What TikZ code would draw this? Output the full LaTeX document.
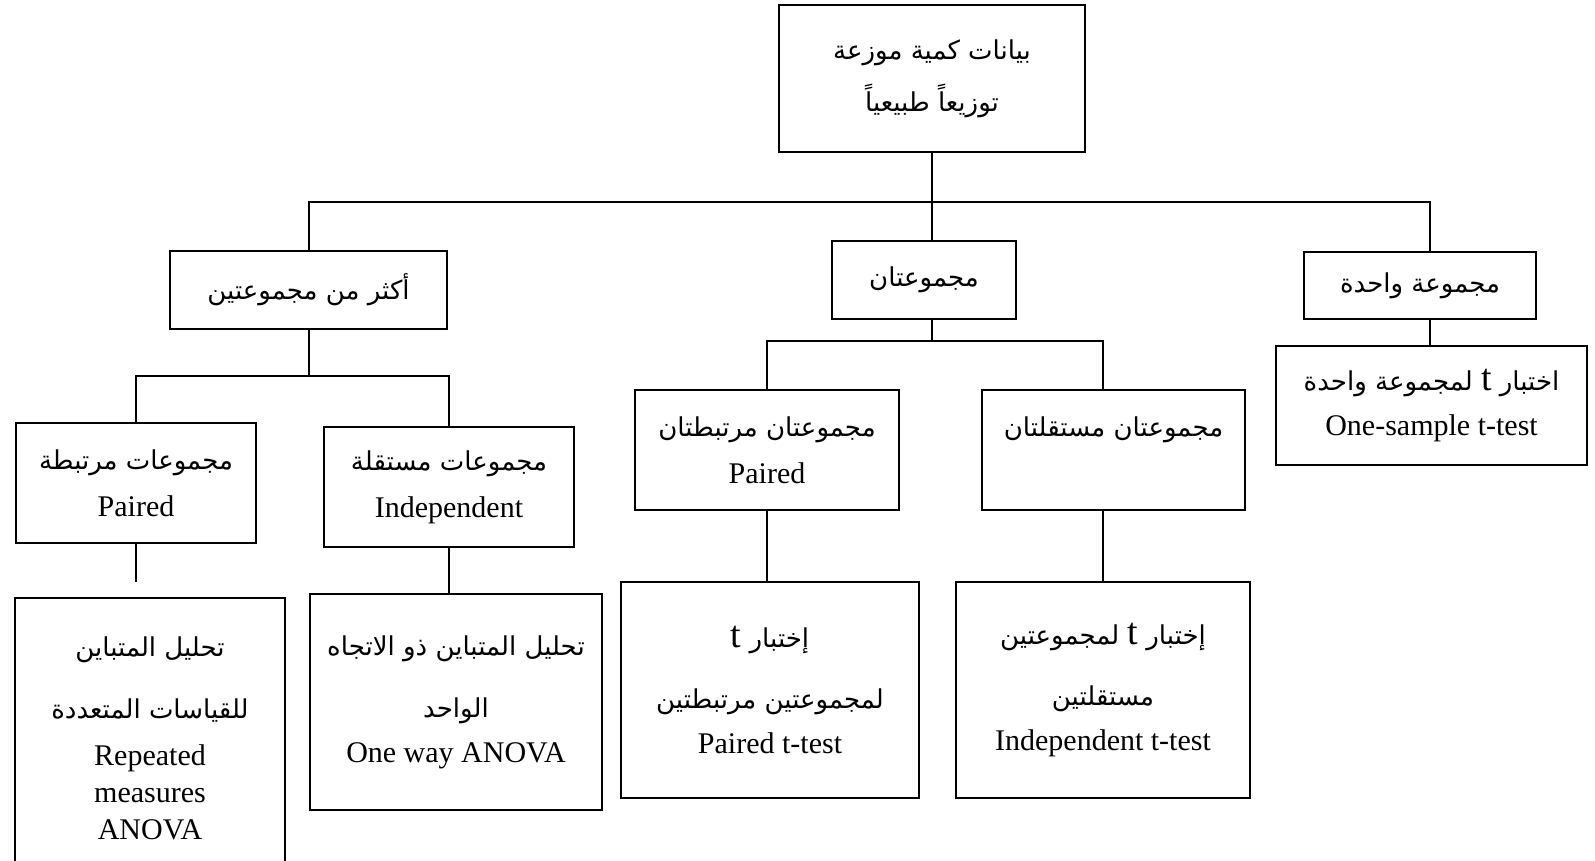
\documentclass[tikz,border=0pt]{standalone}
\usepackage{fontspec}
\setmainfont{Liberation Serif}
\newfontfamily\arabicfont[Script=Arabic]{DejaVu Sans}
\TeXXeTstate=1
\newcommand{\arab}[1]{{\arabicfont\fontsize{13}{18.5}\selectfont\beginR #1\endR}}
\newcommand{\tlet}{{\rmfamily\fontsize{19}{19}\selectfont t}}

\begin{document}
\begin{tikzpicture}[x=0.5pt, y=-0.5pt, line width=1pt,
  box/.style={draw, align=center, inner sep=0pt, font=\fontsize{15}{18.5}\selectfont}]
  \useasboundingbox (0,0) rectangle (1595,861);
  \clip (0,0) rectangle (1595,861);

  % Root
  \node[box, minimum width=153pt, minimum height=73.5pt] (root) at (932,78.5)
    {\arab{بيانات كمية موزعة}\\[7.5pt]\arab{توزيعاً طبيعياً}};

  % First level
  \node[box, minimum width=138.5pt, minimum height=39pt] (more) at (308.5,290)
    {\arab{أكثر من مجموعتين}};
  \node[box, minimum width=92pt, minimum height=39pt] (two) at (924,280)
    {\arab{مجموعتان}};
  \node[box, minimum width=116pt, minimum height=33.5pt] (one) at (1420,285.5)
    {\arab{مجموعة واحدة}};

  % One group
  \node[box, minimum width=155.5pt, minimum height=59.5pt] (onet) at (1431.5,405.5)
    {\arab{اختبار \tlet{} لمجموعة واحدة}\\[4pt]One-sample t-test};

  % Two groups
  \node[box, minimum width=132pt, minimum height=60pt] (twopaired) at (767,450)
    {\arab{مجموعتان مرتبطتان}\\[5pt]Paired};
  \node[box, minimum width=131.5pt, minimum height=60pt] (twoindep) at (1113.5,450)
    {\arab{مجموعتان مستقلتان}\\[5pt]~};
  \node[box, minimum width=149pt, minimum height=108pt] (pairedt) at (770,690)
    {\arab{إختبار \tlet}\\[12pt]\arab{لمجموعتين مرتبطتين}\\[4pt]Paired t-test};
  \node[box, minimum width=147pt, minimum height=108pt] (indept) at (1103,690)
    {\arab{إختبار \tlet{} لمجموعتين}\\[12pt]\arab{مستقلتين}\\[4pt]Independent t-test};

  % More than two groups
  \node[box, minimum width=120pt, minimum height=60pt] (manypaired) at (136,483)
    {\arab{مجموعات مرتبطة}\\[5pt]Paired};
  \node[box, minimum width=125pt, minimum height=60pt] (manyindep) at (449,487)
    {\arab{مجموعات مستقلة}\\[5pt]Independent};
  \node[box, minimum width=135pt, minimum height=140pt] (rmanova) at (150,738)
    {\arab{تحليل المتباين}\\[12.5pt]\arab{للقياسات المتعددة}\\[5pt]Repeated\\measures\\ANOVA};
  \node[box, minimum width=146pt, minimum height=108pt] (owanova) at (456,702)
    {\arab{تحليل المتباين ذو الاتجاه}\\[12.5pt]\arab{الواحد}\\[4pt]One way ANOVA};

  % Connectors
  \coordinate (busR) at (1430,202);
  \coordinate (bus2) at (932,341);
  \coordinate (bus3) at (308.5,376);
  \coordinate (gapend) at (136,582);

  \draw (root.south) -- (root.south |- two.north);
  \draw (more.north) |- (busR) -- (busR |- one.north);
  \draw (busR |- one.south) -- (busR |- onet.north);

  \draw (two.south -| bus2) -- (bus2);
  \draw (twopaired.north) |- (bus2) -| (indept.north |- twoindep.north);
  \draw (twopaired.south) -- (twopaired.south |- pairedt.north);
  \draw (indept.north |- twoindep.south) -- (indept.north);

  \draw (more.south) -- (bus3);
  \draw (manypaired.north) |- (bus3) -| (manyindep.north);
  \draw (manypaired.south) -- (gapend);
  \draw (manyindep.south) -- (manyindep.south |- owanova.north);
\end{tikzpicture}
\end{document}
